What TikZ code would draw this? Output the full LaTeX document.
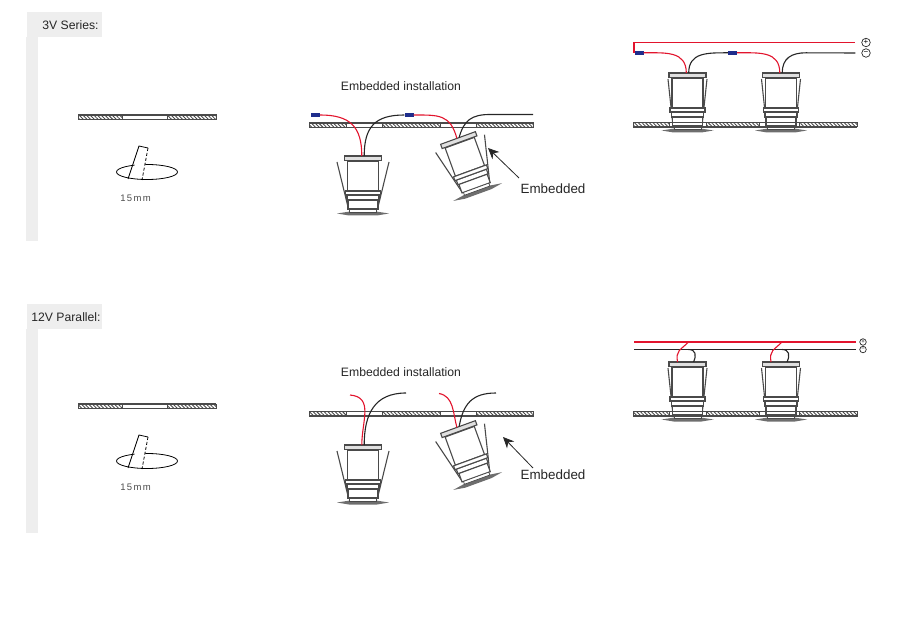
\documentclass[tikz,border=0pt]{standalone}
\usepackage{fontspec}
\setmainfont{Liberation Sans}
\newfontfamily\spacedfont[LetterSpace=14]{Liberation Sans}
\usepackage{tikz}
\usetikzlibrary{arrows.meta,patterns.meta}

\definecolor{panelgray}{HTML}{EEEEEE}
\definecolor{wirered}{HTML}{E2142D}
\definecolor{plugblue}{HTML}{1E2D8C}
\definecolor{inkgray}{HTML}{4A4A4A}

\tikzset{
  lampline/.style={draw=inkgray,line width=1.1pt,fill=white},
  redwire/.style={draw=wirered,line width=1.1pt},
  blackwire/.style={draw=black!85,line width=1.1pt},
  plug/.style={rectangle,fill=plugblue,inner sep=0pt,minimum width=9pt,minimum height=4pt},
  sign/.style={circle,draw=black!85,line width=0.7pt,inner sep=0pt,minimum size=#1,font=\fontsize{8}{8}\selectfont},
  label/.style={text=black!85,font=\fontsize{12.2}{14}\selectfont,inner sep=0pt},
  biglabel/.style={text=black!85,font=\fontsize{13.4}{15}\selectfont,inner sep=0pt},
  pics/lamp/.style={code={
    \draw[lampline] (-#1,6) -- (-14.5,53);
    \draw[lampline] (#1,6) -- (14.5,53);
    \fill[inkgray!80] (-26,57.5) -- (-13,55.5) -- (13,55.5) -- (26,57.5) -- (14,59.5) -- (-14,59.5) -- cycle;
    \draw[lampline] (-16,39) rectangle (16,44);
    \draw[lampline] (-15,44) rectangle (15,53);
    \draw[lampline,line width=0.7pt] (-13.5,53) rectangle (13.5,56);
    \draw[lampline] (-15.5,5) rectangle (15.5,35);
    \draw[lampline] (-17.5,35) rectangle (17.5,39);
    \draw[lampline,fill=black!12] (-18.5,0) rectangle (18.5,4.5);
    \coordinate (-r) at (-1.2,0);
    \coordinate (-b) at (1.2,0);
    \coordinate (-rr) at (-10,0);
    \coordinate (-bb) at (6,0);
  }},
}

% one ceiling board: #1 = y of its top edge, #2 = solid stretches
\newcommand{\board}[2]{
  \draw[inkgray,line width=1.1pt] (\xstart,#1) -- (\xstop,#1) (\xstart,#1+4.5) -- (\xstop,#1+4.5);
  \foreach \xa/\xb in {#2}
    \draw[inkgray,line width=1pt,pattern={Lines[angle=-45,distance=2.6pt,line width=0.9pt]},pattern color=inkgray] (\xa,#1) rectangle (\xb,#1+4.5);
}

\begin{document}
\begin{tikzpicture}[x=1pt,y=-1pt]
  \useasboundingbox (0,0) rectangle (902,617);

  % side bars
  \foreach \ya/\txt/\xt in {12/{3V Series:}/70.5,304/{12V Parallel:}/66} {
    \fill[panelgray] (27,\ya) rectangle (102,\ya+25);
    \fill[panelgray] (26,\ya+25) rectangle (38,\ya+229);
    \node[label] at (\xt,\ya+13) {\txt};
  }

  % drilling sketch
  \foreach \ya in {0,289} {
    \def\xstart{78}\def\xstop{216}
    \board{115+\ya}{78/122,167/216}
    \draw[black,line width=0.8pt] (147,172+\ya) ellipse [x radius=30.5,y radius=7.5];
    \fill[white] (139,146+\ya) -- (148,148+\ya) -- (144,172+\ya) -- (133,172+\ya) -- cycle;
    \draw[black,line width=0.8pt] (128,179+\ya) -- (139,146+\ya) -- (148,148+\ya);
    \draw[black,line width=0.8pt,densely dashed] (148,148+\ya) -- (142,180+\ya);
    \node[text=black!70,inner sep=0pt,font=\fontsize{9.5}{10}\spacedfont] at (135.5,198.5+\ya) {15mm};
  }

  % 3V, embedded
  \node[label] at (401,86) {Embedded installation};
  \def\xstart{309}\def\xstop{533}
  \board{123}{309/346,382/440,476/533}
  \pic (la) at (363,156) {lamp=26};
  \pic[rotate=20] (lb) at (458,138) {lamp=26};
  \node[plug] (pa) at (315.5,115) {};
  \node[plug] (pb) at (409,115) {};
  \coordinate (ea) at (533,114.5);
  \draw[redwire] (pa.east) to [out=0,in=90,looseness=1.3] (la-r);
  \draw[blackwire] (la-b) to [out=90,in=180,looseness=1.3] (pb.west);
  \draw[redwire] (pb.east) to [out=0,in=105,looseness=1.3] (lb-r);
  \draw[blackwire] (lb-b) to [out=75,in=180,looseness=1.2] (490,114.5) -- (ea);
  \node[biglabel] (ta) at (553,189) {Embedded};
  \draw[-{Stealth[length=11pt,width=10pt]},black!85,line width=0.8pt] (519,178) -- (488,148);

  % 3V, mounted
  \pic (lc) at (687.5,73) {lamp=19.5};
  \pic (ld) at (781,73) {lamp=19.5};
  \def\xstart{633}\def\xstop{857}
  \board{122.5}{633/669,706/759,799/857}
  \node[plug] (pc) at (639,52.8) {};
  \node[plug] (pd) at (732.5,52.8) {};
  \node[sign=8.5pt] (sp) at (866,42.5) {+};
  \node[sign=8.5pt] (sm) at (866,53) {−};
  \draw[redwire] (pc.west) -- (634,52.8) -- (634,42.5) -- ([xshift=-6pt]sp.west);
  \draw[redwire] (pc.east) to [out=0,in=90,looseness=1.2] (lc-r);
  \draw[blackwire] (lc-b) to [out=90,in=180,looseness=1.2] (pd.west);
  \draw[redwire] (pd.east) to [out=0,in=90,looseness=1.2] (ld-r);
  \draw[blackwire] (ld-b) to [out=90,in=180,looseness=1.2] (806,52.8) -- ([xshift=-6pt]sm.west);

  % 12V, embedded
  \node[label] at (401,372) {Embedded installation};
  \def\xstart{309}\def\xstop{533}
  \board{411.5}{309/346,382/440,476/533}
  \pic (le) at (363,445) {lamp=26};
  \pic[rotate=20] (lf) at (458,427) {lamp=26};
  \coordinate (ra) at (350,395);
  \coordinate (ka) at (406,393);
  \coordinate (rb) at (439,393.5);
  \coordinate (kb) at (496,393);
  \draw[redwire] (ra) to [out=-5,in=90,looseness=1.2] (le-r);
  \draw[blackwire] (le-b) to [out=90,in=180,looseness=1.2] (ka);
  \draw[redwire] (rb) to [out=-10,in=105] (lf-r);
  \draw[blackwire] (lf-b) to [out=80,in=180,looseness=1.2] (kb);
  \node[biglabel] (tb) at (553,475) {Embedded};
  \draw[-{Stealth[length=11pt,width=10pt]},black!85,line width=0.8pt] (533,468) -- (503,437);

  % 12V, mounted
  \pic (lg) at (687.5,362) {lamp=19.5};
  \pic (lh) at (781,362) {lamp=19.5};
  \def\xstart{633}\def\xstop{857}
  \board{411.5}{633/669,706/759,799/857}
  \node[sign=6.5pt,font=\fontsize{6}{6}\selectfont] (sq) at (863,342) {+};
  \node[sign=6.5pt,font=\fontsize{6}{6}\selectfont] (sn) at (863,349.5) {−};
  \coordinate (wr) at (634,342);
  \coordinate (wk) at (634,349.5);
  \draw[redwire] (wr) -- ([xshift=-3pt]sq.west);
  \draw[blackwire] (wk) -- ([xshift=-3pt]sn.west);
  \foreach \lmp/\xa in {lg/688.5,lh/782} {
    \draw[redwire] (\xa,342) to [out=-135,in=100,looseness=1.3] (\lmp-rr);
    \draw[blackwire] (\xa,349.5) to [out=0,in=65,looseness=1.4] (\lmp-bb);
  }
\end{tikzpicture}
\end{document}
